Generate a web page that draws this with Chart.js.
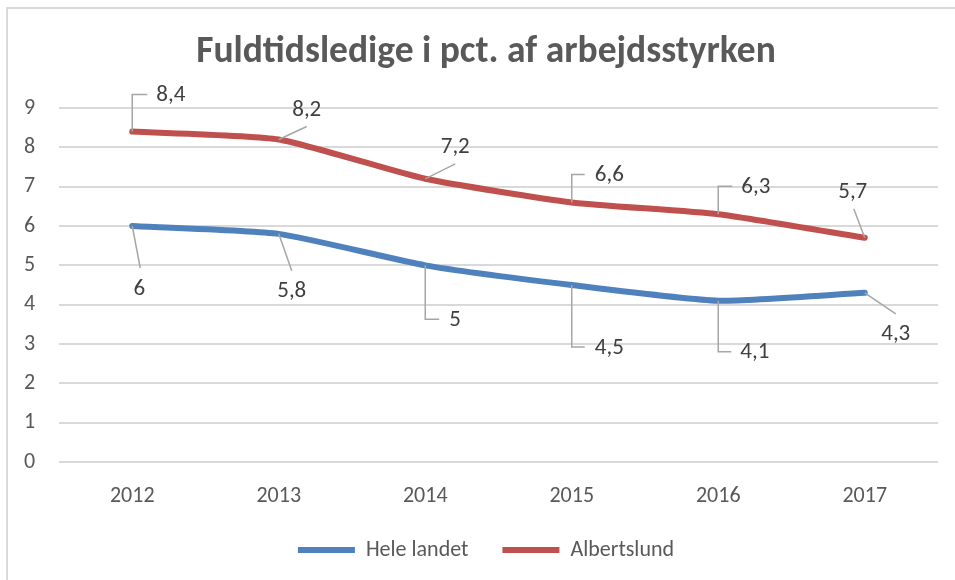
<!DOCTYPE html>
<html>
<head>
<meta charset="utf-8">
<script src="https://cdn.jsdelivr.net/npm/chart.js@4.4.1/dist/chart.umd.min.js"></script>
<style>
  html, body { margin: 0; padding: 0; background: #fff; }
  #wrap { width: 955px; height: 580px; position: relative; }
</style>
</head>
<body>
<div id="wrap"><canvas id="chart" width="955" height="580"></canvas></div>
<script>
// Fuldtidsledige - data
const years = ["2012", "2013", "2014", "2015", "2016", "2017"];
const heleLandet = [6, 5.8, 5, 4.5, 4.1, 4.3];
const albertslund = [8.4, 8.2, 7.2, 6.6, 6.3, 5.7];
const yTicks = [0, 1, 2, 3, 4, 5, 6, 7, 8, 9];

const FONT = "Carlito, Lato, 'Open Sans', sans-serif";
const BLUE = "#4F81BD";
const RED = "#C0504D";

// label placement per point (relative to the point): elbow = leader goes
// vertically then horizontally, otherwise a straight leader to [lx, ly]
const labelPlacement = [
  [
    { elbow: false, tx: 7, ty: 63, lx: 8, ly: 42 },
    { elbow: false, tx: 13, ty: 57, lx: 13, ly: 37 },
    { elbow: true, ey: 54, ex: 14, tx: 24 },
    { elbow: true, ey: 62, ex: 13, tx: 23 },
    { elbow: true, ey: 51, ex: 13, tx: 22 },
    { elbow: false, tx: 31, ty: 41, lx: 31, ly: 21 },
  ],
  [
    { elbow: true, ey: -37, ex: 15, tx: 24 },
    { elbow: false, tx: 28, ty: -29, lx: 28, ly: -13 },
    { elbow: false, tx: 30, ty: -32, lx: 30, ly: -15 },
    { elbow: true, ey: -28, ex: 13, tx: 23 },
    { elbow: true, ey: -28, ex: 14, tx: 23 },
    { elbow: false, tx: -12, ty: -46, lx: -11, ly: -29 },
  ],
];

const frame = {
  id: "frame",
  beforeDraw(chart) {
    const ctx = chart.ctx;
    ctx.save();
    ctx.fillStyle = "#fff";
    ctx.fillRect(0, 0, chart.width, chart.height);
    ctx.strokeStyle = "#D9D9D9";
    ctx.lineWidth = 2;
    ctx.strokeRect(7, 8, chart.width + 20, chart.height + 20);
    ctx.restore();
  },
};

const dataLabels = {
  id: "dataLabels",
  afterDatasetsDraw(chart) {
    const ctx = chart.ctx;
    ctx.save();
    ctx.font = "23px " + FONT;
    ctx.textBaseline = "middle";
    chart.data.datasets.forEach((ds, i) => {
      const meta = chart.getDatasetMeta(i);
      meta.data.forEach((pt, j) => {
        const p = labelPlacement[i][j];
        const text = String(ds.data[j]).replace(".", ",");
        ctx.strokeStyle = "#A6A6A6";
        ctx.lineWidth = 1.5;
        ctx.beginPath();
        ctx.moveTo(pt.x, pt.y);
        if (p.elbow) {
          ctx.lineTo(pt.x, pt.y + p.ey);
          ctx.lineTo(pt.x + p.ex, pt.y + p.ey);
        } else {
          ctx.lineTo(pt.x + p.lx, pt.y + p.ly);
        }
        ctx.stroke();
        ctx.fillStyle = "#404040";
        if (p.elbow) {
          ctx.textAlign = "left";
          ctx.fillText(text, pt.x + p.tx, pt.y + p.ey + 1);
        } else {
          ctx.textAlign = "center";
          ctx.fillText(text, pt.x + p.tx, pt.y + p.ty);
        }
      });
    });
    ctx.restore();
  },
};

new Chart(document.getElementById("chart"), {
  type: "line",
  data: {
    labels: years,
    datasets: [
      {
        label: "Hele landet",
        data: heleLandet,
        borderColor: BLUE,
        backgroundColor: BLUE,
        borderWidth: 6,
        borderCapStyle: "round",
        borderJoinStyle: "round",
        pointRadius: 0,
        tension: 0.18,
      },
      {
        label: "Albertslund",
        data: albertslund,
        borderColor: RED,
        backgroundColor: RED,
        borderWidth: 6,
        borderCapStyle: "round",
        borderJoinStyle: "round",
        pointRadius: 0,
        tension: 0.18,
      },
    ],
  },
  options: {
    responsive: false,
    animation: false,
    layout: { padding: { left: 34, right: 17, top: 0, bottom: 9 } },
    plugins: {
      title: {
        display: true,
        text: "Fuldtidsledige i pct. af arbejdsstyrken",
        color: "#595959",
        font: { family: FONT, size: 37.5, weight: "bold" },
        padding: { top: 30, bottom: 33 },
      },
      legend: {
        position: "bottom",
        labels: {
          usePointStyle: true,
          pointStyle: "line",
          pointStyleWidth: 57,
          color: "#595959",
          font: { family: FONT, size: 22 },
          padding: 34,
        },
      },
      tooltip: { enabled: false },
    },
    scales: {
      x: {
        offset: true,
        grid: { display: false },
        border: { display: false },
        ticks: { color: "#595959", font: { family: FONT, size: 22 }, padding: 13 },
        afterFit(scale) { scale.height = 43; },
      },
      y: {
        min: 0,
        max: 9,
        afterBuildTicks(scale) { scale.ticks = yTicks.map((v) => ({ value: v })); },
        grid: { color: "#D9D9D9", lineWidth: 2, drawTicks: false },
        border: { display: false },
        // mirrored + negative padding puts the labels left of the axis without clipping
        ticks: { color: "#595959", font: { family: FONT, size: 22 }, mirror: true, padding: -35 },
        afterFit(scale) { scale.width = 25; },
      },
    },
  },
  plugins: [frame, dataLabels],
});
</script>
</body>
</html>
